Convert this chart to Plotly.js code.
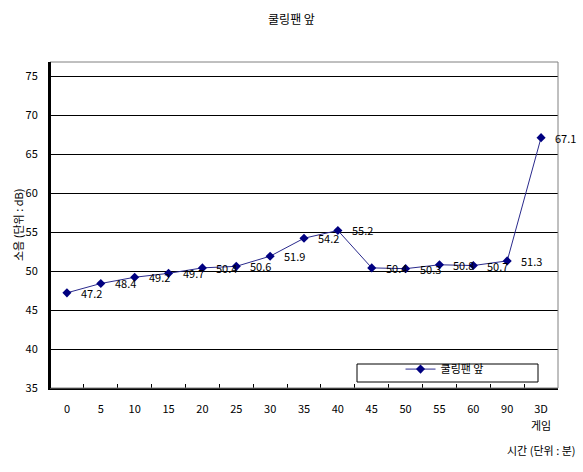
<!DOCTYPE html>
<html><head><meta charset="utf-8">
<script src="https://cdn.plot.ly/plotly-3.0.1.min.js"></script>
<style>body{margin:0;background:#fff}#c{width:583px;height:472px}</style>
</head><body><div id="c"></div>
<script>
var categories = ["0","5","10","15","20","25","30","35","40","45","50","55","60","90","3D"];
var lastCategorySubLabel = "게임";
var noise = [47.2, 48.4, 49.2, 49.7, 50.4, 50.6, 51.9, 54.2, 55.2, 50.4, 50.3, 50.8, 50.7, 51.3, 67.1];
var yTicks = [35,40,45,50,55,60,65,70,75];
var seriesName = "쿨링팬 앞";

var font = "Noto Sans CJK KR, DejaVu Sans, sans-serif";
var ann = noise.map(function(v,i){
  return {x:i, y:v, xref:'x', yref:'y', text:v.toFixed(1), showarrow:false,
          xanchor:'left', yanchor:'middle', xshift:12, font:{family:font,size:11,color:'#000'}};
});
ann.push({xref:'x', yref:'paper', x:categories.length-1, y:-0.113, xanchor:'center', yanchor:'middle',
  text:lastCategorySubLabel, showarrow:false, font:{family:font,size:11,color:'#000'}});
ann.push({xref:'paper', yref:'paper', x:1.039, y:-0.19, xanchor:'right', yanchor:'middle',
  text:'시간 (단위 : 분)', showarrow:false, font:{family:font,size:11,color:'#000'}});
ann.push({xref:'paper', yref:'paper', x:-0.063, y:0.5, xanchor:'center', yanchor:'middle', textangle:-90,
  text:'소음 (단위 : dB)', showarrow:false, font:{family:font,size:11,color:'#000'}});

var trace = {x:categories, y:noise, type:'scatter', mode:'lines+markers', name:seriesName,
  line:{color:'#2a2a8c', width:1}, marker:{symbol:'diamond', size:7, color:'#000080'}};

var layout = {
  width:583, height:472, margin:{l:50, r:25, t:62, b:84},
  paper_bgcolor:'#fff', plot_bgcolor:'#fff',
  title:{text:'쿨링팬 앞', x:0.5, xanchor:'center', y:0.957, yanchor:'middle', font:{family:font,size:12,color:'#000'}},
  font:{family:font, size:11, color:'#000'},
  xaxis:{type:'category', categoryorder:'array', categoryarray:categories, range:[-0.5,14.5],
    showgrid:false, showline:true, linecolor:'#000', linewidth:1.5, mirror:false,
    ticks:'inside', tickson:'boundaries', ticklen:4, tickcolor:'#000', ticklabelstandoff:10, tickangle:0,
    tickfont:{family:font,size:11,color:'#000'}, fixedrange:true},
  yaxis:{range:[35,76.8], tickvals:yTicks, showgrid:true, gridcolor:'#000', gridwidth:1, zeroline:false,
    showline:true, linecolor:'#000', linewidth:2, ticks:'', ticklabelstandoff:8,
    tickfont:{family:font,size:11,color:'#000'}},
  showlegend:true,
  legend:{x:0.69, y:0.058, xanchor:'left', yanchor:'middle', bgcolor:'rgba(0,0,0,0)', borderwidth:0,
    font:{family:font,size:11,color:'#000'}},
  shapes:[
    {type:'rect', xref:'paper', yref:'paper', x0:0, x1:1, y0:0, y1:1, line:{color:'#808080', width:1}},
    {type:'line', xref:'paper', yref:'paper', x0:0, x1:0, y0:0, y1:1, line:{color:'#000', width:2}},
    {type:'rect', xref:'paper', yref:'paper', x0:(357-50)/508, x1:(538-50)/508, y0:(388-382)/326, y1:(388-364)/326,
      line:{color:'#000', width:1}, fillcolor:'rgba(255,255,255,1)', layer:'above'}
  ],
  annotations:ann
};
Plotly.newPlot('c',[trace],layout,{staticPlot:true});
</script></body></html>
